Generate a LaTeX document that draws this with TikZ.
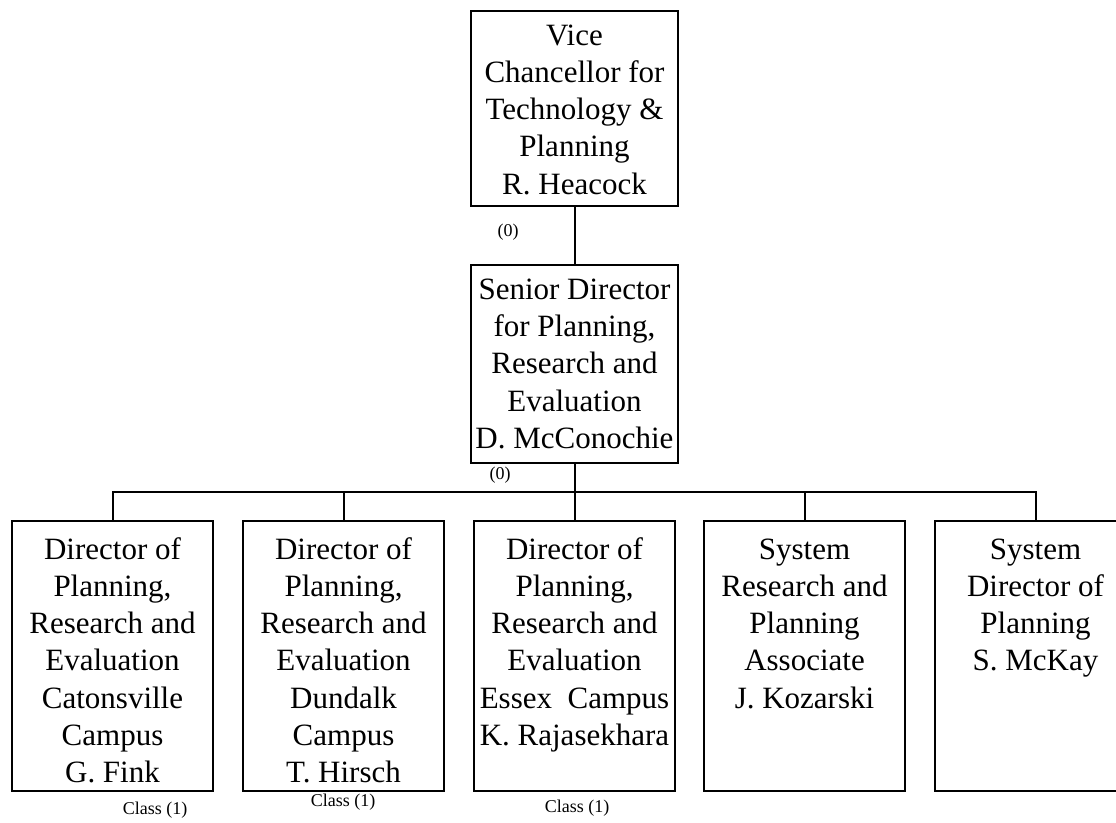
\documentclass[tikz,border=0pt]{standalone}
\usepackage{fontspec}
\setmainfont{Liberation Serif}
\begin{document}
\begin{tikzpicture}[x=1pt,y=-1pt,
  box/.style={draw, line width=2.2pt, rectangle, inner sep=0pt},
  txt/.style={align=center, inner sep=0pt, font=\fontsize{31}{37.3}\selectfont},
  lbl/.style={inner sep=0pt, font=\fontsize{18}{20}\selectfont},
  conn/.style={line width=2pt}]
\clip (0,0) rectangle (1116,822);
% top boxes
\node[box, minimum width=207pt, minimum height=195pt] (vc) at (574.5,108.5) {};
\node[box, minimum width=207pt, minimum height=198pt] (sd) at (574.5,364) {};
\node[txt, anchor=base] (vct) at (574.5,194.2) {Vice\\Chancellor for\\Technology \&\\Planning\\R. Heacock};
\node[txt, anchor=base] (sdt) at (574.5,448.5) {Senior Director\\for Planning,\\Research and\\Evaluation\\D. McConochie};
% bottom boxes
\node[box, minimum width=201pt, minimum height=270pt] (b1) at (112.5,656) {};
\node[box, minimum width=201pt, minimum height=270pt] (b2) at (343.5,656) {};
\node[box, minimum width=201pt, minimum height=270pt] (b3) at (574.5,656) {};
\node[box, minimum width=201pt, minimum height=270pt] (b4) at (804.5,656) {};
\node[box, minimum width=201pt, minimum height=270pt] (b5) at (1035.5,656) {};
\node[txt, anchor=base] (b1t) at (112.5,782.8) {Director of\\Planning,\\Research and\\Evaluation\\Catonsville\\Campus\\G. Fink};
\node[txt, anchor=base] (b2t) at (343.5,782.8) {Director of\\Planning,\\Research and\\Evaluation\\Dundalk\\Campus\\T. Hirsch};
\node[txt, anchor=base] (b3t) at (574.5,745.5) {Director of\\Planning,\\Research and\\Evaluation\\Essex\ \ Campus\\K. Rajasekhara};
\node[txt, anchor=base] (b4t) at (804.5,708.2) {System\\Research and\\Planning\\Associate\\J. Kozarski};
\node[txt, anchor=base] (b5t) at (1035.5,670.9) {System\\Director of\\Planning\\S. McKay};
% connectors
\coordinate (bus) at (574.5,492);
\draw[conn] (vc.south) -- (sd.north);
\draw[conn] (sd.south) -- (bus);
\draw[conn] (b1.north) |- (bus) -| (b5.north);
\draw[conn] (b2.north) -- (b2.north |- bus);
\draw[conn] (b3.north) -- (bus);
\draw[conn] (b4.north) -- (b4.north |- bus);
% labels
\node[lbl] (l0a) at (508,232) {(0)};
\node[lbl] (l0b) at (500,475) {(0)};
\node[lbl] (c1) at (155,810) {Class (1)};
\node[lbl] (c2) at (343,802) {Class (1)};
\node[lbl] (c3) at (577,808) {Class (1)};
\end{tikzpicture}
\end{document}
